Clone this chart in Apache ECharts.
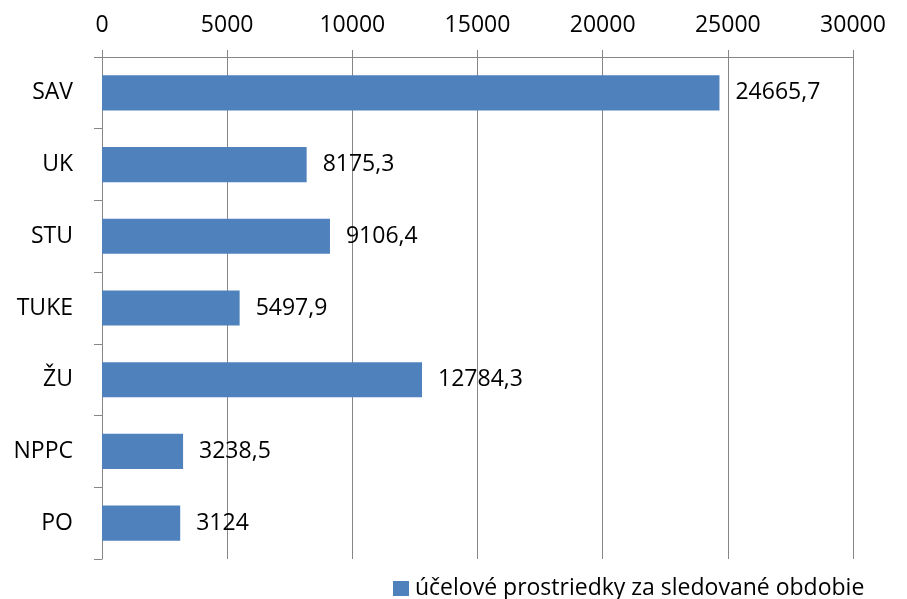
<!DOCTYPE html>
<html>
<head>
<meta charset="utf-8">
<script src="https://cdn.jsdelivr.net/npm/echarts@6/dist/echarts.min.js"></script>
<style>html,body{margin:0;padding:0;background:#fff}#c{width:907px;height:599px}</style>
</head>
<body>
<div id="c"></div>
<script>
const categories = ['SAV', 'UK', 'STU', 'TUKE', 'ŽU', 'NPPC', 'PO'];
const values = [24665.7, 8175.3, 9106.4, 5497.9, 12784.3, 3238.5, 3124];
const seriesName = 'účelové prostriedky za sledované obdobie';
const xTicks = { min: 0, max: 30000, interval: 5000 };

const font = '"Open Sans", "Noto Sans", sans-serif';
const chart = echarts.init(document.getElementById('c'));
chart.setOption({
  animation: false,
  textStyle: { fontFamily: font },
  grid: { left: 102, right: 54, top: 57, bottom: 40, containLabel: false },
  legend: {
    data: [seriesName],
    left: 388, top: 572,
    itemWidth: 16, itemHeight: 15, itemGap: 4,
    icon: 'rect',
    textStyle: { fontSize: 23, color: '#000', fontFamily: font, padding: [0, 0, 0, 1] }
  },
  xAxis: {
    type: 'value', position: 'top',
    min: xTicks.min, max: xTicks.max, interval: xTicks.interval,
    axisLine: { show: true, lineStyle: { color: '#868686', width: 1 } },
    axisTick: { show: true, length: 7, lineStyle: { color: '#868686' } },
    axisLabel: { color: '#000', fontSize: 23, margin: 20, fontFamily: font, formatter: v => String(v) },
    splitLine: { show: true, lineStyle: { color: '#868686', width: 1 } }
  },
  yAxis: {
    type: 'category', data: categories, inverse: true,
    axisLine: { show: true, lineStyle: { color: '#868686', width: 1 } },
    axisTick: { show: true, length: 8, lineStyle: { color: '#868686' } },
    axisLabel: { color: '#000', fontSize: 23, margin: 29, fontFamily: font },
    splitLine: { show: false }
  },
  series: [{
    name: seriesName, type: 'bar', data: values,
    barCategoryGap: '51%',
    itemStyle: { color: '#4F81BD' },
    label: {
      show: true, position: 'right', distance: 16,
      color: '#000', fontSize: 23, fontFamily: font,
      formatter: p => String(p.value).replace('.', ',')
    }
  }]
});
</script>
</body>
</html>
